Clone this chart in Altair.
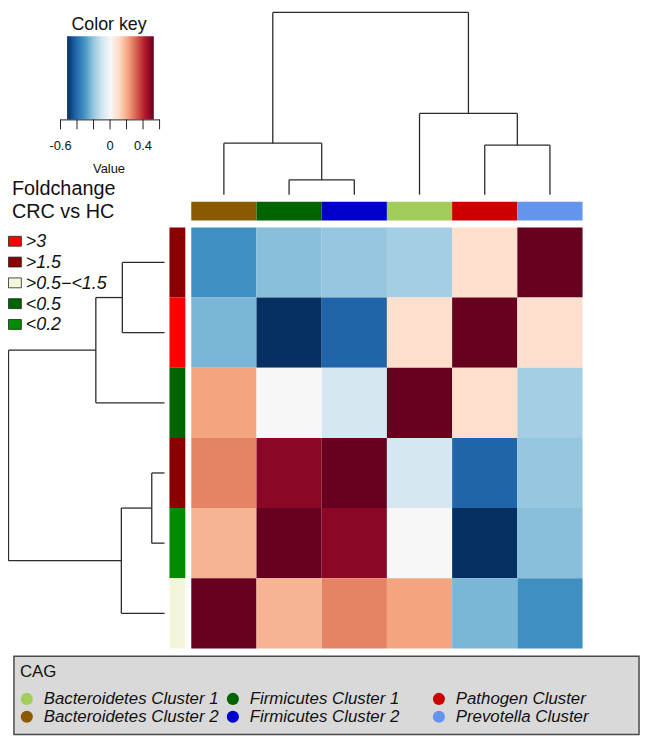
import altair as alt
import pandas as pd

# ---------------- data ----------------
col_labels = ["Bacteroidetes Cluster 2", "Firmicutes Cluster 1", "Firmicutes Cluster 2",
              "Bacteroidetes Cluster 1", "Pathogen Cluster", "Prevotella Cluster"]
row_foldchange = [">1.5", ">3", "<0.5", ">1.5", "<0.2", ">0.5−<1.5"]
cell_values = [
    [-0.32, -0.22, -0.20, -0.18, 0.09, 0.52],
    [-0.24, -0.52, -0.42, 0.09, 0.52, 0.09],
    [0.21, 0.00, -0.09, 0.52, 0.09, -0.18],
    [0.26, 0.47, 0.52, -0.09, -0.42, -0.20],
    [0.18, 0.52, 0.47, 0.00, -0.52, -0.22],
    [0.52, 0.18, 0.26, 0.21, -0.24, -0.32],
]

# dendrograms (leaf L<i> = position i in display order, N<k> = k-th merge)
col_merge_left = ["L1", "L0", "L4", "L3", "N1"]
col_merge_right = ["L2", "N0", "L5", "N2", "N3"]
col_merge_height = [15, 52, 50, 82, 184]

row_merge_left = ["L0", "N0", "L3", "N2", "N1"]
row_merge_right = ["L1", "L2", "L4", "L5", "N3"]
row_merge_height = [43, 70, 13, 44, 159]

# legends
cag_names = ["Bacteroidetes Cluster 1", "Bacteroidetes Cluster 2", "Firmicutes Cluster 1",
             "Firmicutes Cluster 2", "Pathogen Cluster", "Prevotella Cluster"]
cag_colors = ["#A2CD5A", "#8B5A00", "#006400", "#0000CD", "#CD0000", "#6495ED"]
fc_labels = [">3", ">1.5", ">0.5−<1.5", "<0.5", "<0.2"]
fc_colors = ["#FF0000", "#8B0000", "#F5F5DC", "#006400", "#008B00"]
key_ticks = [-0.6, -0.4, -0.2, 0.0, 0.2, 0.4, 0.6]
key_tick_labels = ["-0.6", "0", "0.4"]
key_label_values = [-0.6, 0.0, 0.4]
key_range = [-0.52, 0.53]

rdbu = ["#053061", "#2166ac", "#4393c3", "#92c5de", "#d1e5f0", "#f7f7f7",
        "#fddbc7", "#f4a582", "#d6604d", "#b2182b", "#67001f"]
rdbu_domain = [-0.52, -0.416, -0.312, -0.208, -0.104, 0.0, 0.104, 0.208, 0.312, 0.416, 0.52]

FONT = "Liberation Sans"
LINE = "#2b2b2b"

# ---------------- tables ----------------
cag_color_map = dict(zip(cag_names, cag_colors))
fc_color_map = dict(zip(fc_labels, fc_colors))

cells = pd.DataFrame([
    dict(r0=r, r1=r + 1, c0=c, c1=c + 1, v=cell_values[r][c])
    for r in range(6) for c in range(6)
])
colbar = pd.DataFrame([
    dict(c0=i, c1=i + 1, name=n, col=cag_color_map[n]) for i, n in enumerate(col_labels)
])
rowbar = pd.DataFrame([
    dict(r0=i, r1=i + 1, fc=f, col=fc_color_map[f]) for i, f in enumerate(row_foldchange)
])


def dendro_segments(n, left, right, heights):
    pos = {f"L{i}": (i + 0.5, 0.0) for i in range(n)}
    segs = []
    for k, (a, b, h) in enumerate(zip(left, right, heights)):
        pa, ha = pos[a]
        pb, hb = pos[b]
        segs.append(dict(p0=pa, p1=pa, h0=ha, h1=h))
        segs.append(dict(p0=pb, p1=pb, h0=hb, h1=h))
        segs.append(dict(p0=pa, p1=pb, h0=h, h1=h))
        pos[f"N{k}"] = ((pa + pb) / 2, h)
    return pd.DataFrame(segs)


col_dendro = dendro_segments(6, col_merge_left, col_merge_right, col_merge_height)
row_dendro = dendro_segments(6, row_merge_left, row_merge_right, row_merge_height)

fc_df = pd.DataFrame(dict(i=list(range(len(fc_labels))), label=fc_labels, col=fc_colors))
cag_df = pd.DataFrame(dict(
    name=cag_names, col=cag_colors,
    gx=[i // 2 for i in range(len(cag_names))],
    gy=[i % 2 for i in range(len(cag_names))],
))
key_df = pd.DataFrame(dict(lo=[key_range[0]], hi=[key_range[1]]))
tick_df = pd.DataFrame(dict(t=key_ticks))
ticklab_df = pd.DataFrame(dict(t=key_label_values, lab=key_tick_labels))
one = pd.DataFrame(dict(a=[0]))

# ---------------- scales ----------------
col_x = alt.Scale(domain=[0, 6], range=[185, 580])
row_y = alt.Scale(domain=[0, 6], range=[218, 643])
colh_y = alt.Scale(domain=[0, 184], range=[185, 1])
rowh_x = alt.Scale(domain=[0, 159], range=[158, 0.5])
key_x = alt.Scale(domain=[-0.6, 0.6], range=[53, 153])
heat_color = alt.Scale(domain=rdbu_domain, range=rdbu, clamp=True)

# ---------------- layers ----------------
heat = alt.Chart(cells).mark_rect(strokeWidth=0).encode(
    x=alt.X("c0:Q", scale=col_x, axis=None), x2="c1:Q",
    y=alt.Y("r0:Q", scale=row_y, axis=None), y2="r1:Q",
    color=alt.Color("v:Q", scale=heat_color, legend=None),
)

colbar_l = alt.Chart(colbar).mark_rect(strokeWidth=0).encode(
    x=alt.X("c0:Q", scale=col_x, axis=None), x2="c1:Q",
    y=alt.value(192), y2=alt.value(211),
    color=alt.Color("col:N", scale=None),
)

rowbar_l = alt.Chart(rowbar).mark_rect(strokeWidth=0).encode(
    y=alt.Y("r0:Q", scale=row_y, axis=None), y2="r1:Q",
    x=alt.value(163), x2=alt.value(179),
    color=alt.Color("col:N", scale=None),
)

coldend_l = alt.Chart(col_dendro).mark_rule(color=LINE, strokeWidth=1.3).encode(
    x=alt.X("p0:Q", scale=col_x, axis=None), x2="p1:Q",
    y=alt.Y("h0:Q", scale=colh_y, axis=None), y2="h1:Q",
)

rowdend_l = alt.Chart(row_dendro).mark_rule(color=LINE, strokeWidth=1.3).encode(
    y=alt.Y("p0:Q", scale=row_y, axis=None), y2="p1:Q",
    x=alt.X("h0:Q", scale=rowh_x, axis=None), x2="h1:Q",
)

# colour key
grad = alt.Gradient(
    gradient="linear",
    stops=[alt.GradientStop(offset=k / 10, color=c) for k, c in enumerate(rdbu)],
    x1=0, x2=1, y1=0, y2=0,
)
key_rect = alt.Chart(key_df).mark_rect(fill=grad, strokeWidth=0).encode(
    x=alt.X("lo:Q", scale=key_x, axis=None), x2="hi:Q",
    y=alt.value(25), y2=alt.value(109),
)
key_axis = alt.Chart(one).mark_rule(color="#222", strokeWidth=1).encode(
    x=alt.value(53), x2=alt.value(153), y=alt.value(109.5),
)
key_ticks_l = alt.Chart(tick_df).mark_rule(color="#222", strokeWidth=1).encode(
    x=alt.X("t:Q", scale=key_x, axis=None), y=alt.value(109), y2=alt.value(119),
)
key_labels_l = alt.Chart(ticklab_df).mark_text(font=FONT, fontSize=13, baseline="alphabetic",
                                               color="#111").encode(
    x=alt.X("t:Q", scale=key_x, axis=None), y=alt.value(140), text="lab:N",
)
key_title = alt.Chart(pd.DataFrame(dict(t=["Color key"]))).mark_text(
    font=FONT, fontSize=18, baseline="alphabetic", color="#111").encode(
    x=alt.value(102), y=alt.value(19), text="t:N")
key_value = alt.Chart(pd.DataFrame(dict(t=["Value"]))).mark_text(
    font=FONT, fontSize=13, baseline="alphabetic", color="#111").encode(
    x=alt.value(102), y=alt.value(163), text="t:N")

# foldchange legend
fc_title = alt.Chart(pd.DataFrame(dict(t=["Foldchange", "CRC vs HC"], y=[185, 209]))).mark_text(
    font=FONT, fontSize=20, align="left", baseline="alphabetic", color="#111").encode(
    x=alt.value(4), y=alt.Y("y:Q", scale=alt.Scale(domain=[0, 729], range=[0, 729]), axis=None),
    text="t:N")
fc_sq = alt.Chart(fc_df).mark_point(shape="M-1.3,-1H1.3V1H-1.3Z", size=100, filled=True,
                                    opacity=1, stroke="#222", strokeWidth=0.8).encode(
    x=alt.value(7),
    y=alt.Y("i:Q", scale=alt.Scale(domain=[0, 4], range=[232, 316]), axis=None),
    fill=alt.Fill("col:N", scale=None),
)
fc_txt = alt.Chart(fc_df).mark_text(font=FONT, fontSize=18, fontStyle="italic", align="left",
                                    baseline="middle", color="#111").encode(
    x=alt.value(18),
    y=alt.Y("i:Q", scale=alt.Scale(domain=[0, 4], range=[233, 317]), axis=None),
    text="label:N",
)

# CAG legend
box = alt.Chart(one).mark_rect(fill="#D9D9D9", stroke="#4a4a4a", strokeWidth=1.5).encode(
    x=alt.value(6), x2=alt.value(637), y=alt.value(651), y2=alt.value(730),
)
cag_title = alt.Chart(pd.DataFrame(dict(t=["CAG"]))).mark_text(
    font=FONT, fontSize=17, align="left", baseline="alphabetic", color="#111").encode(
    x=alt.value(12), y=alt.value(672), text="t:N")
cag_x = alt.Scale(domain=[0, 2], range=[19, 435])
cag_y = alt.Scale(domain=[0, 1], range=[694, 712])
cag_pts = alt.Chart(cag_df).mark_circle(size=150, opacity=1).encode(
    x=alt.X("gx:Q", scale=cag_x, axis=None),
    y=alt.Y("gy:Q", scale=cag_y, axis=None),
    color=alt.Color("col:N", scale=None),
)
cag_txt = alt.Chart(cag_df).mark_text(font=FONT, fontSize=17, fontStyle="italic", align="left",
                                      baseline="middle", dx=17, color="#111").encode(
    x=alt.X("gx:Q", scale=cag_x, axis=None),
    y=alt.Y("gy:Q", scale=cag_y, axis=None),
    text="name:N",
)

chart = alt.layer(
    box, heat, colbar_l, rowbar_l, coldend_l, rowdend_l,
    key_rect, key_axis, key_ticks_l, key_labels_l, key_title, key_value,
    fc_title, fc_sq, fc_txt, cag_title, cag_pts, cag_txt,
).resolve_scale(
    x="independent", y="independent", color="independent", fill="independent"
).properties(
    width=640, height=731, padding=0, autosize="none", background="white"
).configure_view(stroke=None)

chart.save("out.html", embed_options={"renderer": "svg", "actions": False})
